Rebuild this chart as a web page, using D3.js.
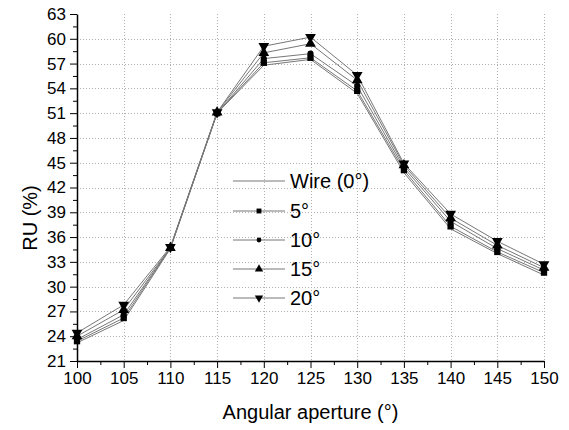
<!DOCTYPE html>
<html>
<head>
<meta charset="utf-8">
<script src="https://cdn.jsdelivr.net/npm/d3@7"></script>
<style>
  body { margin: 0; background: #fff; }
  svg { display: block; font-family: "Liberation Sans", Arial, sans-serif; }
</style>
</head>
<body>
<svg id="chart" width="569" height="430"></svg>
<script>
// angular aperture (deg) on x, RU (%) on y
var apertures = [100, 105, 110, 115, 120, 125, 130, 135, 140, 145, 150];
var wire0 = [23.2, 25.9, 34.6, 51.0, 56.8, 57.5, 53.4, 43.8, 37.0, 34.0, 31.4];
var deg5 = [23.4, 26.2, 34.7, 51.0, 57.1, 57.7, 53.7, 44.1, 37.3, 34.2, 31.7];
var deg10 = [23.6, 26.6, 34.7, 51.0, 57.6, 58.2, 54.3, 44.4, 37.9, 34.6, 32.0];
var deg15 = [24.0, 27.2, 34.7, 51.1, 58.3, 59.4, 55.0, 44.7, 38.3, 35.0, 32.3];
var deg20 = [24.4, 27.8, 34.8, 51.1, 59.1, 60.2, 55.6, 44.9, 38.8, 35.5, 32.7];

var seriesNames = ['Wire (0°)', '5°', '10°', '15°', '20°'];
var seriesValues = [wire0, deg5, deg10, deg15, deg20];

var xTicks = [100, 105, 110, 115, 120, 125, 130, 135, 140, 145, 150];
var yTicks = [21, 24, 27, 30, 33, 36, 39, 42, 45, 48, 51, 54, 57, 60, 63];

function drawChart() {
  var seriesMarkers = [null, d3.symbolSquare, d3.symbolCircle, d3.symbolTriangle, 'down'];
  var svg = d3.select('#chart');
  var pLeft = 77, pRight = 544, pTop = 14, pBottom = 361;

  var x = d3.scaleLinear().domain([100, 150]).range([pLeft, pRight]);
  var y = d3.scaleLinear().domain([21, 63]).range([pBottom, pTop]);

  // grid
  var grid = svg.append('g').attr('stroke', '#b0b0b0').attr('stroke-width', 1)
    .attr('stroke-dasharray', '1,2');
  grid.selectAll('.vg').data(xTicks.slice(1)).enter().append('line')
    .attr('x1', d => Math.round(x(d)) + 0.5).attr('x2', d => Math.round(x(d)) + 0.5)
    .attr('y1', pTop).attr('y2', pBottom);
  grid.selectAll('.hg').data(yTicks.slice(1, -1)).enter().append('line')
    .attr('x1', pLeft).attr('x2', pRight)
    .attr('y1', d => Math.round(y(d)) + 0.5).attr('y2', d => Math.round(y(d)) + 0.5);

  // minor ticks
  var xMinor = xTicks.slice(0, -1).map(d => d + 2.5);
  var yMinor = yTicks.slice(0, -1).map(d => d + 1.5);
  svg.append('g').attr('transform', `translate(0,${pBottom})`)
    .call(d3.axisBottom(x).tickValues(xMinor).tickSize(4).tickFormat(''))
    .call(g => g.select('.domain').remove());
  svg.append('g').attr('transform', `translate(${pLeft},0)`)
    .call(d3.axisLeft(y).tickValues(yMinor).tickSize(4).tickFormat(''))
    .call(g => g.select('.domain').remove());

  // main axes
  var xAxis = svg.append('g').attr('transform', `translate(0,${pBottom})`)
    .call(d3.axisBottom(x).tickValues(xTicks).tickSize(7).tickSizeOuter(0).tickPadding(4));
  var yAxis = svg.append('g').attr('transform', `translate(${pLeft},0)`)
    .call(d3.axisLeft(y).tickValues(yTicks).tickSize(7).tickSizeOuter(0).tickPadding(4));

  [xAxis, yAxis].forEach(function(g) {
    g.attr('font-size', 17).attr('font-family', '"Liberation Sans", Arial, sans-serif');
    g.selectAll('text').attr('fill', '#000');
    g.select('.domain').attr('stroke-width', 1.5);
  });

  // axis titles
  svg.append('text').attr('x', (pLeft + pRight) / 2).attr('y', 419)
    .attr('text-anchor', 'middle').attr('font-size', 20).text('Angular aperture (°)');
  svg.append('text').attr('transform', 'translate(37,218) rotate(-90)')
    .attr('text-anchor', 'middle').attr('font-size', 20).text('RU (%)');

  function markerPath(kind, size) {
    if (kind === 'down') return d3.symbol(d3.symbolTriangle, size)();
    return d3.symbol(kind, size)();
  }
  function markerSize(kind) {
    if (kind === d3.symbolSquare) return 40;
    if (kind === d3.symbolCircle) return 30;
    return 50;
  }

  var line = d3.line().x((d, i) => x(apertures[i])).y(d => y(d));

  var series = svg.append('g');
  seriesValues.forEach(function(vals) {
    series.append('path').datum(vals)
      .attr('d', line).attr('fill', 'none')
      .attr('stroke', '#777').attr('stroke-width', 1);
  });
  seriesValues.forEach(function(vals, k) {
    var kind = seriesMarkers[k];
    if (!kind) return;
    series.selectAll('.m' + k).data(vals).enter().append('path')
      .attr('class', 'm' + k)
      .attr('d', markerPath(kind, markerSize(kind)))
      .attr('transform', (d, i) => `translate(${x(apertures[i])},${y(d)})` +
        (kind === 'down' ? ' rotate(180)' : ''))
      .attr('fill', '#000');
  });

  // legend
  var legendRows = [181, 211, 240, 269, 298];
  var legend = svg.append('g');
  seriesNames.forEach(function(name, k) {
    var ly = legendRows[k];
    legend.append('line').attr('x1', 233).attr('x2', 285)
      .attr('y1', ly).attr('y2', ly).attr('stroke', '#777').attr('stroke-width', 1);
    var kind = seriesMarkers[k];
    if (kind) {
      legend.append('path')
        .attr('d', markerPath(kind, markerSize(kind) * 0.6))
        .attr('transform', `translate(259,${ly})` + (kind === 'down' ? ' rotate(180)' : ''))
        .attr('fill', '#000');
    }
    legend.append('text').attr('x', 290).attr('y', ly + 7)
      .attr('font-size', 20).text(name);
  });
}

drawChart();
</script>
</body>
</html>
